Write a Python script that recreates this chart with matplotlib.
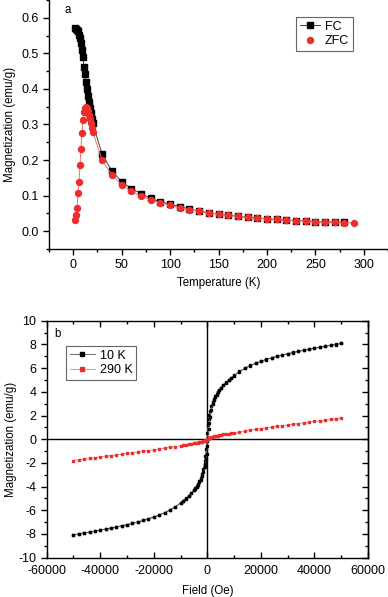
import matplotlib
matplotlib.use("Agg")
import matplotlib.pyplot as plt
from matplotlib.ticker import MultipleLocator
from matplotlib.lines import Line2D

plt.rcParams['font.family'] = ['Liberation Sans', 'DejaVu Sans']
plt.rcParams['font.size'] = 8.3
plt.rcParams['axes.unicode_minus'] = False
plt.rcParams['xtick.labelsize'] = 9
plt.rcParams['ytick.labelsize'] = 9

# ---- (a) FC / ZFC ----
temp_fc = [2, 3, 4, 5, 6, 7, 8, 9, 10, 11, 12, 13, 14, 15, 16, 17, 18, 19, 20,
           30, 40, 50, 60, 70, 80, 90, 100, 110, 120, 130, 140, 150, 160, 170,
           180, 190, 200, 210, 220, 230, 240, 250, 260, 270, 280]
m_fc = [0.570, 0.569, 0.567, 0.562, 0.553, 0.542, 0.528, 0.510, 0.489, 0.463,
        0.441, 0.419, 0.399, 0.380, 0.362, 0.346, 0.332, 0.316, 0.303,
        0.216, 0.169, 0.139, 0.120, 0.106, 0.092, 0.083, 0.076, 0.069, 0.062,
        0.056, 0.052, 0.048, 0.045, 0.042, 0.039, 0.037, 0.035, 0.033, 0.031,
        0.030, 0.029, 0.027, 0.026, 0.026, 0.025]

temp_zfc = [2, 3, 4, 5, 6, 7, 8, 9, 10, 11, 12, 13, 14, 15, 16, 17, 18, 19, 20,
            30, 40, 50, 60, 70, 80, 90, 100, 110, 120, 130, 140, 150, 160, 170,
            180, 190, 200, 210, 220, 230, 240, 250, 260, 270, 280, 290]
m_zfc = [0.031, 0.045, 0.066, 0.108, 0.139, 0.185, 0.231, 0.276, 0.313, 0.335,
         0.346, 0.350, 0.345, 0.338, 0.328, 0.315, 0.303, 0.291, 0.280,
         0.199, 0.158, 0.131, 0.112, 0.098, 0.088, 0.080, 0.073, 0.066, 0.061,
         0.056, 0.052, 0.048, 0.045, 0.042, 0.039, 0.037, 0.035, 0.033, 0.031,
         0.030, 0.029, 0.027, 0.026, 0.025, 0.024, 0.024]

# ---- (b) M(H) loops ----
field_down = [50000, 48000, 46000, 44000, 42000, 40000, 38000, 36000, 34000, 32000,
              30000, 28000, 26000, 24000, 22000, 20000, 18000, 16000, 14000, 12000,
              10000, 9000, 8000, 7000, 6000, 5000, 4500, 4000, 3500, 3000, 2500,
              2000, 1500, 1000, 750, 500, 250, 0, -250, -500, -750, -1000, -1500,
              -2000, -2500, -3000, -3500, -4000, -4500, -5000, -6000, -7000, -8000,
              -9000, -10000, -12000, -14000, -16000, -18000, -20000, -22000, -24000,
              -26000, -28000, -30000, -32000, -34000, -36000, -38000, -40000, -42000,
              -44000, -46000, -48000, -50000]
field_up = field_down[::-1]

m10_down = [8.08, 8.00, 7.92, 7.84, 7.76, 7.68, 7.60, 7.51, 7.42, 7.32,
            7.22, 7.11, 7.00, 6.87, 6.73, 6.58, 6.41, 6.22, 5.99, 5.72,
            5.38, 5.20, 5.00, 4.79, 4.56, 4.31, 4.17, 4.01, 3.84, 3.64, 3.41,
            3.13, 2.79, 2.35, 2.05, 1.68, 1.20, 0.55, -0.15, -0.85, -1.40, -1.85, -2.50,
            -2.95, -3.28, -3.55, -3.78, -3.98, -4.15, -4.30, -4.56, -4.79, -5.00,
            -5.19, -5.37, -5.71, -5.98, -6.21, -6.40, -6.57, -6.72, -6.86,
            -6.99, -7.10, -7.21, -7.31, -7.41, -7.50, -7.59, -7.67, -7.75,
            -7.83, -7.91, -7.99, -8.07]
m10_up = [-8.07, -7.99, -7.91, -7.83, -7.75, -7.67, -7.59, -7.50, -7.41, -7.31,
          -7.21, -7.10, -6.99, -6.86, -6.72, -6.57, -6.40, -6.21, -5.98, -5.71,
          -5.38, -5.20, -5.01, -4.80, -4.57, -4.32, -4.18, -4.02, -3.85, -3.65, -3.42,
          -3.14, -2.80, -2.36, -2.06, -1.69, -1.21, -0.56, 0.14, 0.84, 1.39, 1.84, 2.49,
          2.94, 3.27, 3.54, 3.77, 3.97, 4.14, 4.29, 4.55, 4.78, 4.99,
          5.18, 5.36, 5.70, 5.97, 6.21, 6.40, 6.57, 6.72, 6.86,
          6.99, 7.10, 7.21, 7.31, 7.41, 7.50, 7.59, 7.67, 7.75,
          7.83, 7.91, 7.99, 8.08]
m290 = [1.80, 1.74, 1.68, 1.62, 1.56, 1.50, 1.44, 1.38, 1.32, 1.26,
        1.20, 1.14, 1.08, 1.02, 0.96, 0.89, 0.83, 0.76, 0.69, 0.62,
        0.55, 0.51, 0.48, 0.44, 0.40, 0.36, 0.34, 0.31, 0.29, 0.26, 0.23,
        0.20, 0.16, 0.11, 0.08, 0.06, 0.03, 0.00, -0.03, -0.06, -0.08, -0.11, -0.16,
        -0.20, -0.23, -0.26, -0.29, -0.31, -0.34, -0.36, -0.40, -0.44, -0.48,
        -0.51, -0.55, -0.62, -0.69, -0.76, -0.83, -0.89, -0.96, -1.02,
        -1.08, -1.14, -1.20, -1.26, -1.32, -1.38, -1.44, -1.50, -1.56,
        -1.62, -1.68, -1.74, -1.80]

red = '#EE2C2C'

fig = plt.figure(figsize=(3.88, 5.97), dpi=100)

# panel a
ax1 = fig.add_axes([49/388, 1-249/597, 339/388, 249/597])
ax1.plot(temp_fc, m_fc, color='#444444', lw=0.7, marker='s', ms=4,
         mfc='black', mec='black', zorder=2)
ax1.plot(temp_zfc, m_zfc, color='#F07070', lw=0.7, marker='o', ms=4.3,
         mfc=red, mec=red, zorder=3)
ax1.set_xlim(-25, 325)
ax1.set_ylim(-0.05, 0.65)
ax1.set_xticks([0, 50, 100, 150, 200, 250, 300])
ax1.xaxis.set_minor_locator(MultipleLocator(25))
ax1.yaxis.set_major_locator(MultipleLocator(0.1))
ax1.yaxis.set_minor_locator(MultipleLocator(0.05))
ax1.yaxis.set_major_formatter(matplotlib.ticker.FormatStrFormatter('%.1f'))
for s in ['top', 'right']:
    ax1.spines[s].set_visible(False)
for s in ['left', 'bottom']:
    ax1.spines[s].set_linewidth(1.0)
ax1.tick_params(which='both', direction='out', width=1.0)
ax1.tick_params(which='major', length=4)
ax1.tick_params(which='minor', length=2.5)
ax1.set_xlabel('Temperature (K)', labelpad=4)
ax1.set_ylabel('Magnetization (emu/g)', labelpad=4)
ax1.text(0.056, 0.96, 'a', transform=ax1.transAxes, ha='center', va='center')
h_fc = Line2D([], [], color='#444444', lw=0.7, marker='s', ms=4, mfc='black', mec='black')
h_zfc = Line2D([], [], ls='none', marker='o', ms=4.3, mfc=red, mec=red)
leg1 = ax1.legend([h_fc, h_zfc], ['FC', 'ZFC'], loc='upper left',
                  bbox_to_anchor=(0.729, 0.932), borderaxespad=0,
                  fancybox=False, framealpha=1,
                  edgecolor='#666666', handlelength=1.6, borderpad=0.3,
                  labelspacing=0.2, handletextpad=0.4, fontsize=9)
leg1.get_frame().set_linewidth(0.8)

# panel b
ax2 = fig.add_axes([46.7/388, 1-557.7/597, 321.3/388, 237/597])
ax2.axhline(0, color='black', lw=1.0, zorder=1)
ax2.axvline(0, color='black', lw=1.0, zorder=1)
ax2.plot(field_down, m10_down, color='#555555', lw=0.6, marker='s', ms=1.8,
         mfc='black', mec='black', zorder=3)
ax2.plot(field_up, m10_up, color='#555555', lw=0.6, marker='s', ms=1.8,
         mfc='black', mec='black', zorder=3)
ax2.plot(field_down, m290, color='#F08080', lw=0.6, marker='s', ms=1.8,
         mfc=red, mec=red, zorder=3)
ax2.set_xlim(-60000, 60000)
ax2.set_ylim(-10, 10)
ax2.xaxis.set_major_locator(MultipleLocator(20000))
ax2.xaxis.set_minor_locator(MultipleLocator(10000))
ax2.yaxis.set_major_locator(MultipleLocator(2))
ax2.yaxis.set_minor_locator(MultipleLocator(1))
for s in ax2.spines.values():
    s.set_linewidth(1.0)
ax2.tick_params(axis='x', which='both', direction='in', top=True, width=1.0, pad=5)
ax2.tick_params(axis='y', which='both', direction='out', width=1.0)
ax2.tick_params(which='major', length=4)
ax2.tick_params(which='minor', length=2.5)
sec = ax2.secondary_yaxis('right')
sec.yaxis.set_major_locator(MultipleLocator(2))
sec.yaxis.set_minor_locator(MultipleLocator(1))
sec.tick_params(which='both', direction='in', labelright=False, width=1.0)
sec.tick_params(which='major', length=4)
sec.tick_params(which='minor', length=2.5)
sec.spines['right'].set_linewidth(1.0)
ax2.set_xlabel('Field (Oe)', labelpad=6)
ax2.set_ylabel('Magnetization (emu/g)', labelpad=1)
ax2.text(0.032, 0.944, 'b', transform=ax2.transAxes, ha='center', va='center')
h10 = Line2D([], [], color='#555555', lw=0.6, marker='s', ms=2.2, mfc='black', mec='black')
h290 = Line2D([], [], color='#F08080', lw=0.6, marker='s', ms=2.2, mfc=red, mec=red)
leg2 = ax2.legend([h10, h290], ['10 K', '290 K'], loc='upper left',
                  bbox_to_anchor=(0.06, 0.893), borderaxespad=0,
                  fancybox=False, framealpha=1,
                  edgecolor='#666666', handlelength=2.0, borderpad=0.3,
                  labelspacing=0.2, handletextpad=0.4, fontsize=9)
leg2.get_frame().set_linewidth(0.8)

fig.savefig('out.png', dpi=100)
